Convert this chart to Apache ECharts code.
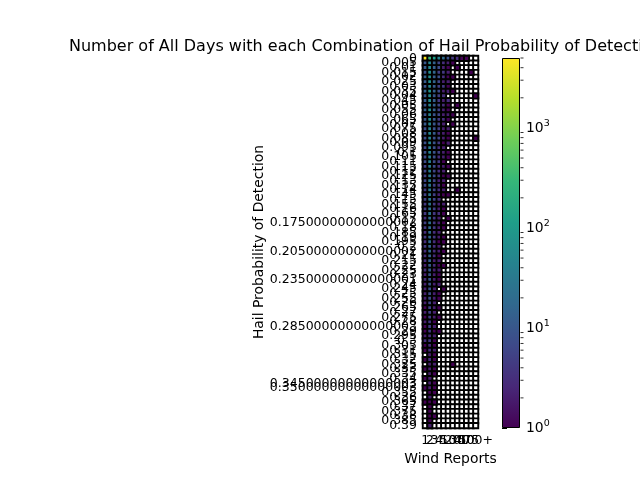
<!DOCTYPE html>
<html>
<head>
<meta charset="utf-8">
<title>hail pod vs wind reports</title>
<script src="https://cdn.jsdelivr.net/npm/echarts@6/dist/echarts.min.js"></script>
<style>
	html,body{margin:0;padding:0;background:#fff;}
	#main{width:640px;height:480px;}
</style>
</head>
<body>
<div id="main"></div>
<script type="text/javascript">
	// wind report bins (x) and hail POD bins (y)
	var windBins = ['1','2','3','4','5','10','20','30','40','50','75','100+'];
	var podBins = ['0','0.005','0.01','0.015','0.02','0.025','0.03','0.035','0.04','0.045',
		'0.05','0.055','0.06','0.065','0.07','0.075','0.08','0.085','0.09','0.095',
		'0.1','0.105','0.11','0.115','0.12','0.125','0.13','0.135','0.14','0.145',
		'0.15','0.155','0.16','0.165','0.17','0.17500000000000002','0.18','0.185','0.19','0.195',
		'0.2','0.20500000000000002','0.21','0.215','0.22','0.225','0.23','0.23500000000000001','0.24','0.245',
		'0.25','0.255','0.26','0.265','0.27','0.275','0.28','0.28500000000000003','0.29','0.295',
		'0.3','0.305','0.31','0.315','0.32','0.325','0.33','0.335','0.34','0.34500000000000003',
		'0.35000000000000003','0.355','0.36','0.365','0.37','0.375','0.38','0.385','0.39'];
	// day counts, one row per POD bin, one column per wind bin (0 = no days)
	var dayCounts = [
		[5000,300,110,45,20,9,4,3,1,1,0,0],
		[10,48,14,6,3,2,1,0,0,0,0,0],
		[12,55,13,7,2,1,0,1,0,0,0,0],
		[9,60,16,5,4,2,0,0,0,0,1,0],
		[14,70,12,8,3,1,1,0,0,0,0,0],
		[11,65,15,6,2,2,0,0,0,0,0,0],
		[9,52,11,5,4,1,0,0,0,0,0,0],
		[15,75,14,7,2,2,1,0,0,0,0,0],
		[10,58,10,5,3,0,0,0,0,0,0,1],
		[12,62,13,4,2,3,0,0,0,0,0,0],
		[9,49,12,6,3,1,0,1,0,0,0,0],
		[13,68,14,5,2,1,0,0,0,0,0,0],
		[8,45,9,6,2,2,1,0,0,0,0,0],
		[10,55,11,4,3,1,0,0,0,0,0,0],
		[11,50,10,5,2,0,1,0,0,0,0,0],
		[7,42,9,5,2,2,0,0,0,0,0,0],
		[9,48,11,3,2,1,0,0,0,0,0,0],
		[7,44,8,6,2,1,0,0,0,0,0,1],
		[8,46,9,4,1,2,0,0,0,0,0,0],
		[6,40,8,3,2,0,0,0,0,0,0,0],
		[8,43,9,5,2,1,0,0,0,0,0,0],
		[6,38,8,3,2,1,0,0,0,0,0,0],
		[7,41,7,4,1,0,0,0,0,0,0,0],
		[5,35,7,3,2,1,0,0,0,0,0,0],
		[6,36,6,3,2,0,0,0,0,0,0,0],
		[5,33,7,4,1,1,0,0,0,0,0,0],
		[6,34,6,2,2,0,0,0,0,0,0,0],
		[7,30,5,3,1,0,0,0,0,0,0,0],
		[4,31,6,3,2,0,0,1,0,0,0,0],
		[5,29,5,2,1,1,0,0,0,0,0,0],
		[5,28,6,3,0,0,0,0,0,0,0,0],
		[4,26,4,2,2,0,0,0,0,0,0,0],
		[5,24,5,2,1,0,0,0,0,0,0,0],
		[4,25,4,3,1,0,0,0,0,0,0,0],
		[3,23,4,2,0,1,0,0,0,0,0,0],
		[5,21,4,2,1,0,0,0,0,0,0,0],
		[4,20,4,2,1,0,0,0,0,0,0,0],
		[3,19,3,2,0,0,0,0,0,0,0,0],
		[4,18,4,2,1,0,0,0,0,0,0,0],
		[3,17,3,1,1,0,0,0,0,0,0,0],
		[4,15,3,2,0,0,0,0,0,0,0,0],
		[3,16,3,2,1,0,0,0,0,0,0,0],
		[3,14,3,1,0,0,0,0,0,0,0,0],
		[3,13,2,2,0,0,0,0,0,0,0,0],
		[2,12,3,1,1,0,0,0,0,0,0,0],
		[3,11,2,2,0,0,0,0,0,0,0,0],
		[2,10,2,1,0,0,0,0,0,0,0,0],
		[3,9,2,1,0,0,0,0,0,0,0,0],
		[2,9,2,2,0,0,0,0,0,0,0,0],
		[2,8,2,0,1,0,0,0,0,0,0,0],
		[2,7,2,1,0,0,0,0,0,0,0,0],
		[2,7,2,1,0,0,0,0,0,0,0,0],
		[2,6,2,0,0,0,0,0,0,0,0,0],
		[1,6,2,1,0,0,0,0,0,0,0,0],
		[2,5,2,0,0,0,0,0,0,0,0,0],
		[1,5,2,1,0,0,0,0,0,0,0,0],
		[2,4,1,0,0,0,0,0,0,0,0,0],
		[1,5,2,0,0,0,0,0,0,0,0,0],
		[1,4,1,1,0,0,0,0,0,0,0,0],
		[2,3,2,0,0,0,0,0,0,0,0,0],
		[3,4,1,0,0,0,0,0,0,0,0,0],
		[1,3,1,0,0,0,0,0,0,0,0,0],
		[1,3,2,0,0,0,0,0,0,0,0,0],
		[0,2,1,0,0,0,0,0,0,0,0,0],
		[1,3,1,0,0,0,0,0,0,0,0,0],
		[0,2,2,0,0,0,1,0,0,0,0,0],
		[1,2,1,0,0,0,0,0,0,0,0,0],
		[0,2,1,0,0,0,0,0,0,0,0,0],
		[1,2,0,0,0,0,0,0,0,0,0,0],
		[0,2,1,0,0,0,0,0,0,0,0,0],
		[1,2,1,0,0,0,0,0,0,0,0,0],
		[0,1,1,0,0,0,0,0,0,0,0,0],
		[0,2,0,0,0,0,0,0,0,0,0,0],
		[1,1,1,0,0,0,0,0,0,0,0,0],
		[0,1,0,0,0,0,0,0,0,0,0,0],
		[0,1,0,0,0,0,0,0,0,0,0,0],
		[0,1,1,0,0,0,0,0,0,0,0,0],
		[0,1,0,0,0,0,0,0,0,0,0,0],
		[0,2,0,0,0,0,0,0,0,0,0,0]
	];
	var colorMax = 5000;
	var cbMinorTicks = [2,3,4,5,6,7,8,9,20,30,40,50,60,70,80,90,200,300,400,500,600,700,800,900,2000,3000,4000,5000];

	var viridis = ['#440154','#482878','#3e4989','#31688e','#26828e','#1f9e89','#35b779','#6ece58','#b5de2b','#fde725'];
	var font = 'DejaVu Sans';

	// every cell gets a white box with black edge, filled cells are drawn on top
	var emptyData = [], heatData = [];
	for(var r=0;r<dayCounts.length;r++){
		for(var c=0;c<windBins.length;c++){
			var v = dayCounts[r][c];
			emptyData.push([c, r, 0]);
			if(v>0){
				heatData.push([c, r, Math.log10(v)]);
			}
		}
	}
	var gradStops = [];
	for(var i=0;i<viridis.length;i++){
		gradStops.push({offset:i/(viridis.length-1), color:viridis[i]});
	}
	var minorData = [];
	for(var k=0;k<cbMinorTicks.length;k++){
		minorData.push([1, cbMinorTicks[k]]);
	}

	var chart = echarts.init(document.getElementById('main'));
	var option = {
		backgroundColor:'#fff',
		animation:false,
		title:{
			text:'Number of All Days with each Combination of Hail Probability of Detection and Wind Reports',
			left:64,
			top:34,
			textStyle:{fontFamily:font, fontSize:16, fontWeight:'normal', color:'#000'}
		},
		grid:[
			{left:423, width:55, top:56, bottom:52, show:true, borderColor:'#000', borderWidth:1, backgroundColor:'transparent'},
			{left:502, width:18, top:58, bottom:52}
		],
		xAxis:[
			{
				type:'category',
				gridIndex:0,
				data:windBins,
				name:'Wind Reports',
				nameLocation:'middle',
				nameGap:24,
				nameTextStyle:{fontFamily:font, fontSize:13.9, color:'#000'},
				axisLine:{lineStyle:{color:'#000'}},
				axisTick:{alignWithLabel:true, length:5, lineStyle:{color:'#000'}},
				axisLabel:{interval:0, fontFamily:font, fontSize:12.5, color:'#000', margin:6},
				splitLine:{show:false}
			},
			{
				type:'value',
				gridIndex:1,
				min:0, max:1,
				show:false
			},
			{
				type:'category',
				gridIndex:1,
				data:['cb'],
				show:false
			}
		],
		yAxis:[
			{
				type:'category',
				gridIndex:0,
				data:podBins,
				inverse:true,
				name:'Hail Probability of Detection',
				nameLocation:'middle',
				nameGap:156,
				nameTextStyle:{fontFamily:font, fontSize:13.9, color:'#000'},
				axisLine:{lineStyle:{color:'#000'}},
				axisTick:{alignWithLabel:true, length:5, lineStyle:{color:'#000'}},
				axisLabel:{interval:0, fontFamily:font, fontSize:12.5, color:'#000', margin:6},
				splitLine:{show:false}
			},
			{
				type:'log',
				gridIndex:1,
				logBase:10,
				min:1,
				max:colorMax,
				position:'right',
				axisLine:{show:false},
				axisTick:{show:true, length:5, lineStyle:{color:'#000'}},
				axisLabel:{
					showMaxLabel:false,
					fontFamily:font, fontSize:13.9, color:'#000', margin:6,
					formatter:function(val){
						var e = Math.log10(val);
						if(Math.abs(e-Math.round(e))>1e-6) return '';
						return '10{s|'+Math.round(e)+'}';
					},
					rich:{s:{fontFamily:font, fontSize:9.5, verticalAlign:'top', padding:[0,0,8,0], color:'#000'}}
				},
				splitLine:{show:false}
			}
		],
		visualMap:{
			show:false,
			type:'continuous',
			seriesIndex:1,
			dimension:2,
			min:0,
			max:Math.log10(colorMax),
			inRange:{color:viridis}
		},
		series:[
			{
				type:'heatmap',
				xAxisIndex:0,
				yAxisIndex:0,
				data:emptyData,
				itemStyle:{color:'#ffffff', borderColor:'#000', borderWidth:1.9},
				emphasis:{disabled:true},
				silent:true
			},
			{
				type:'heatmap',
				xAxisIndex:0,
				yAxisIndex:0,
				data:heatData,
				itemStyle:{borderColor:'#000', borderWidth:1.9},
				emphasis:{disabled:true}
			},
			{
				type:'bar',
				xAxisIndex:2,
				yAxisIndex:1,
				barWidth:'100%',
				data:[colorMax],
				itemStyle:{
					color:new echarts.graphic.LinearGradient(0,1,0,0,gradStops),
					borderColor:'#000',
					borderWidth:1
				},
				silent:true
			},
			{
				type:'scatter',
				xAxisIndex:1,
				yAxisIndex:1,
				data:minorData,
				symbol:'rect',
				symbolSize:[3,1],
				symbolOffset:[2,0],
				itemStyle:{color:'#000'},
				silent:true
			}
		]
	};
	chart.setOption(option);
</script>
</body>
</html>
